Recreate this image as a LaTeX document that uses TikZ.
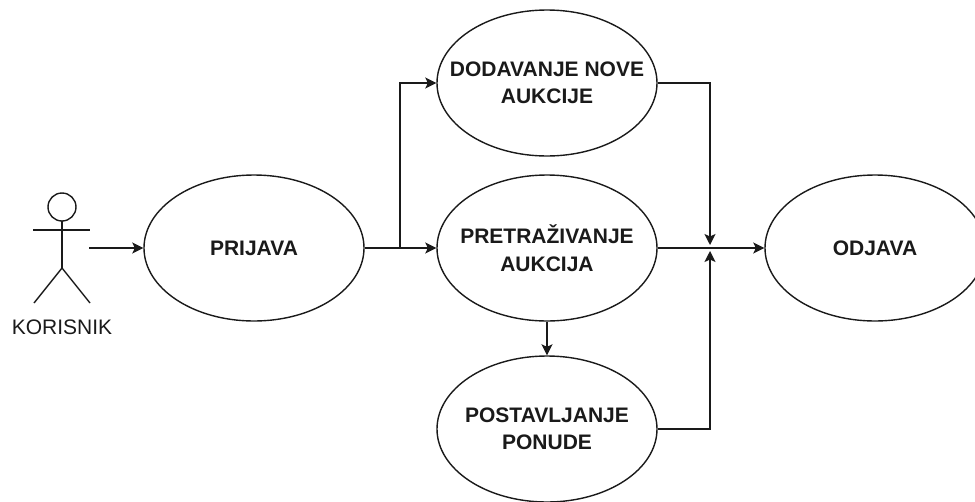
\documentclass[tikz,border=0pt]{standalone}
\usepackage{fontspec}
\setmainfont{Liberation Sans}
\usetikzlibrary{shapes.geometric,arrows.meta}
\definecolor{ink}{HTML}{1A1A1A}
\begin{document}
\begin{tikzpicture}[x=1pt,y=-1pt,
  uc/.style={ellipse,draw=ink,line width=1.4pt,minimum width=220pt,minimum height=146pt,
    inner sep=0pt,
    label={[align=center,text=ink,inner sep=0pt,font=\fontsize{21}{27.5}\selectfont\bfseries]center:#1}},
  wire/.style={draw=ink,line width=1.4pt},
  conn/.style={wire,-{Stealth[length=11pt,width=11pt,inset=2.5pt]}},
  actorline/.style={draw=ink,line width=1.4pt}]
\useasboundingbox (0,0) rectangle (975,501);

% actor
\draw[actorline] (62,207) circle[radius=14];
\draw[actorline] (33,230) -- (90,230);
\draw[actorline] (62,221) -- (62,268);
\draw[actorline] (34,303) -- (62,268) -- (90,303);
\node[text=ink,font=\fontsize{21}{24}\selectfont,inner sep=0pt] (korisnik) at (62,327) {KORISNIK};
\coordinate (actor) at (89,248);

% use cases
\node[uc={PRIJAVA}] (prijava) at (254,248) {};
\node[uc={DODAVANJE NOVE\\AUKCIJE}] (dodavanje) at (547,83) {};
\node[uc={PRETRAŽIVANJE\\AUKCIJA}] (pretraz) at (547,248) {};
\node[uc={POSTAVLJANJE\\PONUDE}] (postav) at (547,429) {};
\node[uc={ODJAVA}] (odjava) at (875,248) {};

% connectors
\coordinate (split) at (400,248);
\coordinate (jd) at (710,245);
\coordinate (ju) at (710,251);
\draw[conn] (actor) -- (prijava.west);
\draw[wire] (prijava.east) -- (split);
\draw[conn] (split) -- (pretraz.west);
\draw[conn] (split) |- (dodavanje.west);
\draw[conn] (pretraz.south) -- (postav.north);
\draw[conn] (dodavanje.east) -| (jd);
\draw[conn] (postav.east) -| (ju);
\draw[conn] (pretraz.east) -- (odjava.west);
\end{tikzpicture}
\end{document}
